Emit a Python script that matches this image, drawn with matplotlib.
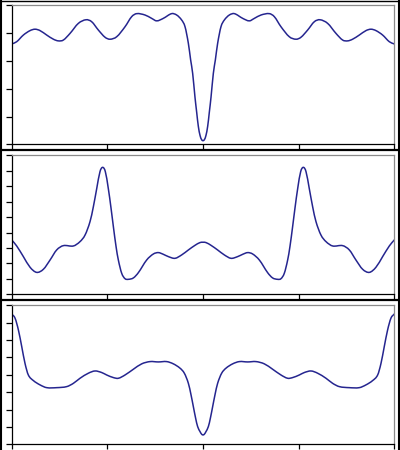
import matplotlib
matplotlib.use("Agg")
import matplotlib.pyplot as plt
from matplotlib.lines import Line2D
from matplotlib.path import Path
from matplotlib.patches import PathPatch

# ---- Panel 1 ----
x1 = [0.000,0.052,0.122,0.192,0.244,0.296,0.366,0.436,0.488,0.540,0.610,0.697,0.777,0.836,0.906,0.976,1.028,1.098,1.185,1.254,
      1.307,1.394,1.463,1.516,1.585,1.672,1.725,1.777,1.812,1.847,1.871,1.892,1.916,1.934,1.951,1.969,1.985,2.000,
      2.015,2.031,2.049,2.066,2.084,2.108,2.129,2.153,2.188,2.223,2.275,2.328,2.415,2.484,2.537,2.606,2.693,2.746,2.815,
      2.902,2.972,3.024,3.094,3.164,3.223,3.303,3.390,3.460,3.512,3.564,3.634,3.704,3.756,3.808,3.878,3.948,4.000]
y1 = [3.61,3.69,3.93,4.09,4.14,4.09,3.93,3.78,3.72,3.75,3.99,4.35,4.48,4.41,4.11,3.85,3.78,3.87,4.23,4.59,
      4.70,4.65,4.53,4.44,4.53,4.70,4.65,4.47,4.23,3.63,3.03,2.55,1.70,1.15,0.65,0.32,0.17,0.13,
      0.17,0.32,0.65,1.15,1.70,2.55,3.03,3.63,4.23,4.47,4.65,4.70,4.53,4.44,4.53,4.65,4.70,4.59,4.23,
      3.87,3.78,3.85,4.11,4.41,4.48,4.35,3.99,3.75,3.72,3.78,3.93,4.09,4.14,4.09,3.93,3.69,3.61]

# ---- Panel 2 ----
x2 = [0.000,0.052,0.122,0.192,0.261,0.331,0.401,0.470,0.540,0.645,0.714,0.767,0.819,0.854,0.889,0.923,0.951,0.979,1.010,1.038,
      1.063,1.091,1.115,1.150,1.185,1.220,1.272,1.324,1.411,1.481,1.533,1.585,1.638,1.707,1.777,1.847,1.916,1.969,2.000,
      2.031,2.084,2.153,2.223,2.293,2.362,2.415,2.467,2.519,2.589,2.676,2.728,2.780,2.815,2.850,2.885,2.909,2.937,2.962,
      2.990,3.021,3.049,3.077,3.111,3.146,3.181,3.233,3.286,3.355,3.460,3.530,3.599,3.669,3.739,3.808,3.878,3.948,4.000]
y2 = [3.52,3.13,2.44,1.75,1.42,1.62,2.22,2.87,3.15,3.13,3.41,3.84,4.71,5.68,6.85,7.94,8.22,7.94,6.85,5.60,
      4.38,3.09,2.22,1.36,1.01,0.97,1.06,1.40,2.22,2.61,2.70,2.59,2.44,2.33,2.55,2.87,3.17,3.35,3.37,
      3.35,3.17,2.87,2.55,2.33,2.44,2.59,2.70,2.61,2.22,1.40,1.06,0.97,1.01,1.36,2.22,3.09,4.38,5.60,
      6.85,7.94,8.22,7.94,6.85,5.68,4.71,3.84,3.41,3.13,3.15,2.87,2.22,1.62,1.42,1.75,2.44,3.13,3.52]

# ---- Panel 3 ----
x3 = [0.000,0.035,0.070,0.105,0.139,0.174,0.226,0.296,0.366,0.470,0.575,0.645,0.714,0.801,0.871,0.941,0.993,1.063,1.115,1.185,
      1.272,1.359,1.446,1.533,1.620,1.690,1.760,1.805,1.847,1.875,1.899,1.923,1.944,1.969,1.986,2.000,
      2.014,2.031,2.056,2.077,2.101,2.125,2.153,2.195,2.240,2.310,2.380,2.467,2.554,2.641,2.728,2.815,2.885,2.937,3.007,
      3.059,3.129,3.199,3.286,3.355,3.425,3.530,3.634,3.704,3.774,3.826,3.861,3.895,3.930,3.965,4.000]
y3 = [7.50,7.26,6.58,5.62,4.66,3.99,3.67,3.42,3.26,3.26,3.32,3.51,3.80,4.09,4.22,4.13,3.99,3.84,3.80,3.99,
      4.32,4.63,4.76,4.74,4.76,4.63,4.38,4.09,3.51,2.84,2.17,1.50,1.02,0.73,0.58,0.54,
      0.58,0.73,1.02,1.50,2.17,2.84,3.51,4.09,4.38,4.63,4.76,4.74,4.76,4.63,4.32,3.99,3.80,3.84,3.99,
      4.13,4.22,4.09,3.80,3.51,3.32,3.26,3.26,3.42,3.67,3.99,4.66,5.62,6.58,7.26,7.50]

x_ticks = [0, 1, 2, 3, 4]
y_ticks = [list(range(0, 6)), list(range(0, 10)), list(range(0, 9))]
y_lims = [(0, 5), (0, 9), (0, 8)]

W, H = 400, 450
fig = plt.figure(figsize=(4, 4.5), dpi=100)
fig.patch.set_facecolor("white")

line_color = "#25258f"
frame_gray = "#8a8a8a"


def smooth_path(xs, ys):
    """Smooth rendering of the read points: cubic Hermite segments drawn as Bezier curves
    that pass exactly through every data point."""
    n = len(xs)
    slopes = []
    for i in range(n):
        if i == 0:
            m = (ys[1] - ys[0]) / (xs[1] - xs[0])
        elif i == n - 1:
            m = (ys[-1] - ys[-2]) / (xs[-1] - xs[-2])
        else:
            m = (ys[i + 1] - ys[i - 1]) / (xs[i + 1] - xs[i - 1])
        slopes.append(m)
    verts = [(xs[0], ys[0])]
    codes = [Path.MOVETO]
    for i in range(n - 1):
        h = xs[i + 1] - xs[i]
        verts.append((xs[i] + h / 3, ys[i] + slopes[i] * h / 3))
        verts.append((xs[i + 1] - h / 3, ys[i + 1] - slopes[i + 1] * h / 3))
        verts.append((xs[i + 1], ys[i + 1]))
        codes += [Path.CURVE4] * 3
    return Path(verts, codes)


# panel pixel boxes (left, top, right, bottom)
boxes = [(11.7, 5.3, 394.3, 144.3), (11.7, 155.3, 394.3, 294.3), (11.7, 305.3, 394.3, 444.3)]
series = [(x1, y1), (x2, y2), (x3, y3)]

for (l, t, r, b), (xs, ys), yt, yl in zip(boxes, series, y_ticks, y_lims):
    ax = fig.add_axes([l / W, 1 - b / H, (r - l) / W, (b - t) / H])
    patch = PathPatch(smooth_path(xs, ys), facecolor="none", edgecolor=line_color,
                      lw=1.1, transform=ax.transData, joinstyle="round", capstyle="round")
    ax.add_patch(patch)
    ax.set_xlim(0, 4)
    ax.set_ylim(*yl)
    ax.set_xticks(x_ticks)
    ax.set_yticks(yt)
    ax.set_xticklabels([])
    ax.set_yticklabels([])
    ax.tick_params(axis="x", direction="out", length=3.4, width=0.9, color="black")
    ax.tick_params(axis="y", direction="out", length=4.1, width=0.9, color="black")
    for s in ("left", "bottom"):
        ax.spines[s].set_color("black")
        ax.spines[s].set_linewidth(0.9)
    for s in ("top", "right"):
        ax.spines[s].set_color(frame_gray)
        ax.spines[s].set_linewidth(0.9)


# outer frame lines and separators (figure pixel coords)
def hline(y, lw):
    fig.add_artist(Line2D([0, 1], [1 - y / H, 1 - y / H], transform=fig.transFigure, color="black", lw=lw))


def vline(x, lw):
    fig.add_artist(Line2D([x / W, x / W], [0, 1], transform=fig.transFigure, color="black", lw=lw))


hline(0.5, 1.0)
hline(150.3, 1.6)
hline(300.3, 1.6)
vline(1.0, 1.5)
vline(399.0, 1.5)

fig.savefig("out.png", dpi=100, facecolor="white")
